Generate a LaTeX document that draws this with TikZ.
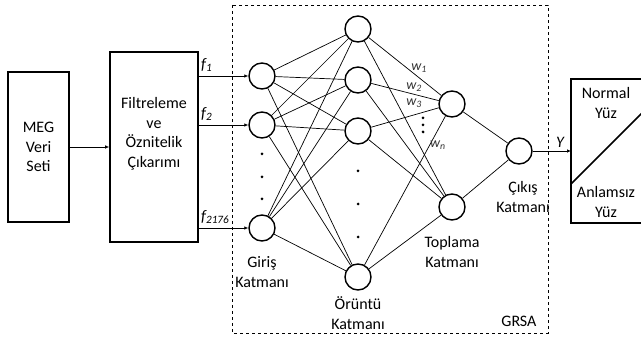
\documentclass[tikz,border=0pt]{standalone}
\usepackage{fontspec}
\setmainfont{Carlito}
\usetikzlibrary{arrows.meta}
\tikzstyle{blok} = [draw=black, line width=1.6pt, align=center, font={\fontsize{16}{19.5}\selectfont}]
\tikzstyle{neuron} = [draw=black, line width=1.4pt, circle, minimum size=26pt, inner sep=0pt]
\tikzstyle{conn} = [line width=0.7pt]
\tikzstyle{lbl} = [align=center, font={\fontsize{16}{19.5}\selectfont}]
\tikzstyle{wlbl} = [font={\fontsize{14}{14}\selectfont\itshape}, text=black!80, inner sep=0pt]
\tikzstyle{flbl} = [font={\fontsize{16}{16}\selectfont\itshape}, inner sep=0pt]
\tikzstyle{dotn} = [circle, fill=black, inner sep=0pt, minimum size=3pt]

\begin{document}
\begin{tikzpicture}[x=1pt,y=-1pt]
    \clip (0,0) rectangle (641,339);
    \fill[white] (0,0) rectangle (641,339);
    % bloklar
    \node[blok, minimum width=61pt, minimum height=150pt](meg) at (38.5,147){MEG\\Veri\\Seti};
    \node[blok, minimum width=88pt, minimum height=190pt](filt) at (154,147){};
    \node[lbl](filttxt) at (154,134){Filtreleme\\ve\\Öznitelik\\Çıkarımı};
    \draw[line width=1.6pt] (571,79) rectangle (720,223);
    \draw[line width=1.6pt] (571,184) -- (676,79);
    \node[lbl](normal) at (606,103){Normal\\Yüz};
    \node[lbl](anlamsiz) at (606,202){Anlamsız\\Yüz};
    \coordinate (sonuc) at (571,151);
    % GRSA
    \draw[dashed, line width=0.8pt] (232,5) rectangle (548,333);
    \node[lbl, anchor=south east](grsa) at (540,330){GRSA};
    % katmanlar
    \node[neuron](in1) at (262,76){};
    \node[neuron](in2) at (262,125){};
    \node[neuron](in3) at (262,228){};
    \node[neuron](p1) at (358,29){};
    \node[neuron](p2) at (358,80){};
    \node[neuron](p3) at (358,131){};
    \node[neuron](p4) at (358,277){};
    \node[neuron](s1) at (452,104){};
    \node[neuron](s2) at (452,207){};
    \node[neuron](out) at (519,151){};
    \node[dotn](d1) at (262,154){};
    \node[dotn](d2) at (262,177){};
    \node[dotn](d3) at (262,199){};
    \node[dotn](d4) at (358,171){};
    \node[dotn](d5) at (358,204){};
    \node[dotn](d6) at (358,237){};
    \node[lbl](giris) at (262,272){Giriş\\Katmanı};
    \node[lbl](oruntu) at (358,313){Örüntü\\Katmanı};
    \node[lbl](toplama) at (452,252){Toplama\\Katmanı};
    \node[lbl](cikis) at (523,197){Çıkış\\Katmanı};
    % girisler
    \coordinate (f1) at (198,76);
    \coordinate (f2) at (198,125);
    \coordinate (f3) at (198,228);
    \draw[conn,-{Latex[length=4pt,width=3.5pt]}](f1)--(in1);
    \draw[conn,-{Latex[length=4pt,width=3.5pt]}](f2)--(in2);
    \draw[conn,-{Latex[length=4pt,width=3.5pt]}](f3)--(in3);
    \node[flbl, anchor=south west] at (201,72){f\textsubscript{1}};
    \node[flbl, anchor=south west] at (201,121){f\textsubscript{2}};
    \node[flbl, anchor=south west] at (201,224){f\textsubscript{2176}};
    \draw[conn,-{Latex[length=4pt,width=3.5pt]}](meg)--(filt);
    % baglantilar
    \draw[conn](in1)--(p1); \draw[conn](in1)--(p2); \draw[conn](in1)--(p3); \draw[conn](in1)--(p4);
    \draw[conn](in2)--(p1); \draw[conn](in2)--(p2); \draw[conn](in2)--(p3); \draw[conn](in2)--(p4);
    \draw[conn](in3)--(p1); \draw[conn](in3)--(p2); \draw[conn](in3)--(p3); \draw[conn](in3)--(p4);
    \draw[conn](p1)--(s1); \draw[conn](p2)--(s1); \draw[conn](p3)--(s1); \draw[conn](p4)--(s1);
    \draw[conn](p1)--(s2); \draw[conn](p2)--(s2); \draw[conn](p3)--(s2); \draw[conn](p4)--(s2);
    \draw[conn](s1)--(out); \draw[conn](s2)--(out);
    \draw[conn,-{Latex[length=4pt,width=3.5pt]}](out)--(sonuc);
    \node[flbl](y) at (560,142){Y};
    % agirliklar
    \node[wlbl](w1) at (419,68){w\textsubscript{1}};
    \node[wlbl](w2) at (414,87){w\textsubscript{2}};
    \node[wlbl](w3) at (414,103){w\textsubscript{3}};
    \node[wlbl](wn) at (438,145){w\textsubscript{n}};
    \node[dotn, minimum size=3pt](v1) at (423,118){};
    \node[dotn, minimum size=3pt](v2) at (423,125){};
    \node[dotn, minimum size=3pt](v3) at (423,132){};
\end{tikzpicture}
\end{document}
